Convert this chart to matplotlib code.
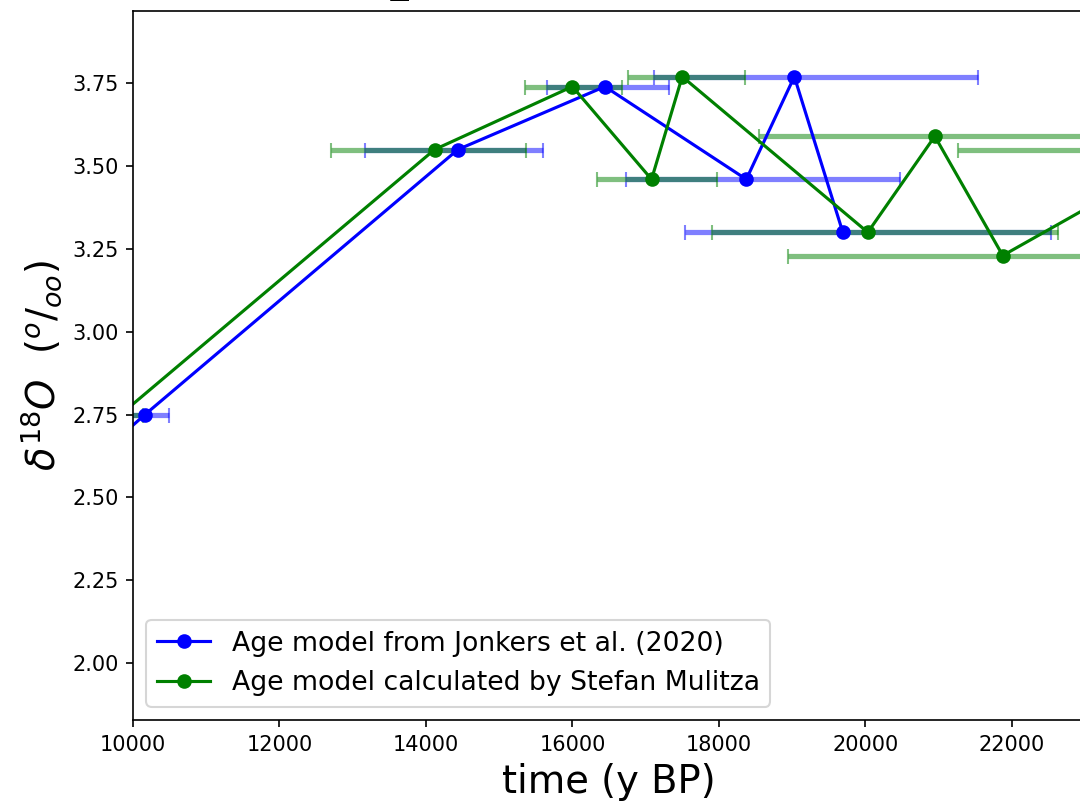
import matplotlib
matplotlib.use("Agg")
import matplotlib.pyplot as plt
import numpy as np

# Age model from Jonkers et al. (2020)
jonkers_age = [9500, 10164, 14437, 16444, 18375, 19031, 19693]
jonkers_d18o = [2.62, 2.75, 3.55, 3.74, 3.46, 3.77, 3.30]
jonkers_err_lo = [310, 310, 1264, 797, 1638, 1911, 2157]
jonkers_err_hi = [310, 328, 1160, 882, 2102, 2512, 2840]

# Age model calculated by Stefan Mulitza
mulitza_age = [9830, 14119, 16000, 17081, 17500, 20034, 20949, 21877, 24444]
mulitza_d18o = [2.75, 3.55, 3.74, 3.46, 3.77, 3.30, 3.59, 3.23, 3.55]
mulitza_err_lo = [310, 1416, 651, 743, 737, 2124, 2403, 2930, 3180]
mulitza_err_hi = [307, 1246, 676, 898, 859, 2600, 2900, 3500, 3800]

labels = ["Age model from Jonkers et al. (2020)",
          "Age model calculated by Stefan Mulitza"]

fig = plt.figure(figsize=(7.2, 808 / 150), dpi=150)
ax = fig.add_axes([133 / 1080, 88 / 808, 952 / 1080, 709.3 / 808])

ax.errorbar(jonkers_age, jonkers_d18o, xerr=[jonkers_err_lo, jonkers_err_hi],
            fmt='none', ecolor='blue', alpha=0.5, elinewidth=2.5, capsize=3.6)
ax.errorbar(mulitza_age, mulitza_d18o, xerr=[mulitza_err_lo, mulitza_err_hi],
            fmt='none', ecolor='green', alpha=0.5, elinewidth=2.5, capsize=3.6)
ax.plot(jonkers_age, jonkers_d18o, 'o-', color='blue', label=labels[0])
ax.plot(mulitza_age, mulitza_d18o, 'o-', color='green', label=labels[1])

ax.set_xlim(10000, 23000)
ax.set_ylim(1.828, 3.969)
ax.set_yticks([2.00, 2.25, 2.50, 2.75, 3.00, 3.25, 3.50, 3.75])
ax.yaxis.set_major_formatter(matplotlib.ticker.FormatStrFormatter('%.2f'))

ax.set_xlabel("time (y BP)", fontsize=18.5)
ax.set_ylabel(r"$\delta^{18}O\ \ (^o/_{oo})$", fontsize=18.5)
ax.set_title("GeoB_core", fontsize=17.28, pad=8.3, x=0.27)
ax.legend(loc='lower left', fontsize=12.8)

fig.savefig("out.png", dpi=150)
